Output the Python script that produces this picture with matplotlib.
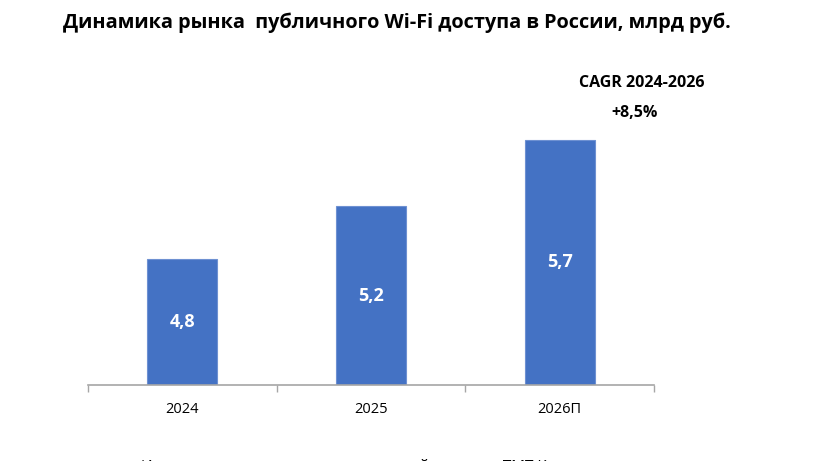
import numpy as np
import matplotlib
matplotlib.use('Agg')
import matplotlib.pyplot as plt

plt.rcParams['font.family'] = ['Open Sans', 'DejaVu Sans']

# Data
years = ['2024', '2025', '2026П']
market = [4.8, 5.2, 5.7]          # млрд руб.
cagr_label = 'CAGR 2024-2026'
cagr_value = '+8,5%'

BLUE = '#4472C4'
GRAY = '#A6A6A6'
Y_MIN, Y_MAX = 3.85, 6.0

fig = plt.figure(figsize=(8.36, 4.61), dpi=100)
ax = fig.add_axes([0.1053, 0.1649, 0.677, 0.618])

x = np.arange(len(years))
ax.bar(x, np.array(market) - Y_MIN, bottom=Y_MIN, width=0.37,
       color=BLUE, edgecolor='#6E91D2', linewidth=0.8, zorder=2)

# value labels in the middle of the visible bar
for xi, v in zip(x, market):
    ax.text(xi, (Y_MIN + v) / 2, f'{v:.1f}'.replace('.', ','),
            ha='center', va='center', color='white',
            fontsize=13, fontweight='bold')

ax.set_xlim(-0.5, len(years) - 0.5)
ax.set_ylim(Y_MIN, Y_MAX)

ax.set_xticks(x)
ax.set_xticklabels(years, fontsize=10.5)
ax.set_xticks(np.arange(len(years) + 1) - 0.5, minor=True)
ax.tick_params(axis='x', which='major', length=0, pad=12)
ax.tick_params(axis='x', which='minor', length=5, color=GRAY, width=1)
ax.set_yticks([])

for side in ['left', 'right', 'top']:
    ax.spines[side].set_visible(False)
ax.spines['bottom'].set_color(GRAY)
ax.spines['bottom'].set_linewidth(1.2)

fig.text(63 / 836, 1 - 23 / 461,
         'Динамика рынка  публичного Wi-Fi доступа в России, млрд руб.',
         ha='left', va='center', fontsize=14.3, fontweight='bold')

fig.text(642 / 836, 1 - 83 / 461, cagr_label, ha='center', va='center',
         fontsize=11.5, fontweight='bold')
fig.text(635 / 836, 1 - 113 / 461, cagr_value, ha='center', va='center',
         fontsize=11.5, fontweight='bold')

# source line, cut off by the bottom edge of the picture
fig.text(141 / 836, 1 - 458.5 / 461,
         'Источник: данные и оценки компаний, расчеты ТМТ Консалтинг',
         ha='left', va='top', fontsize=11)

fig.savefig('out.png', dpi=100)
